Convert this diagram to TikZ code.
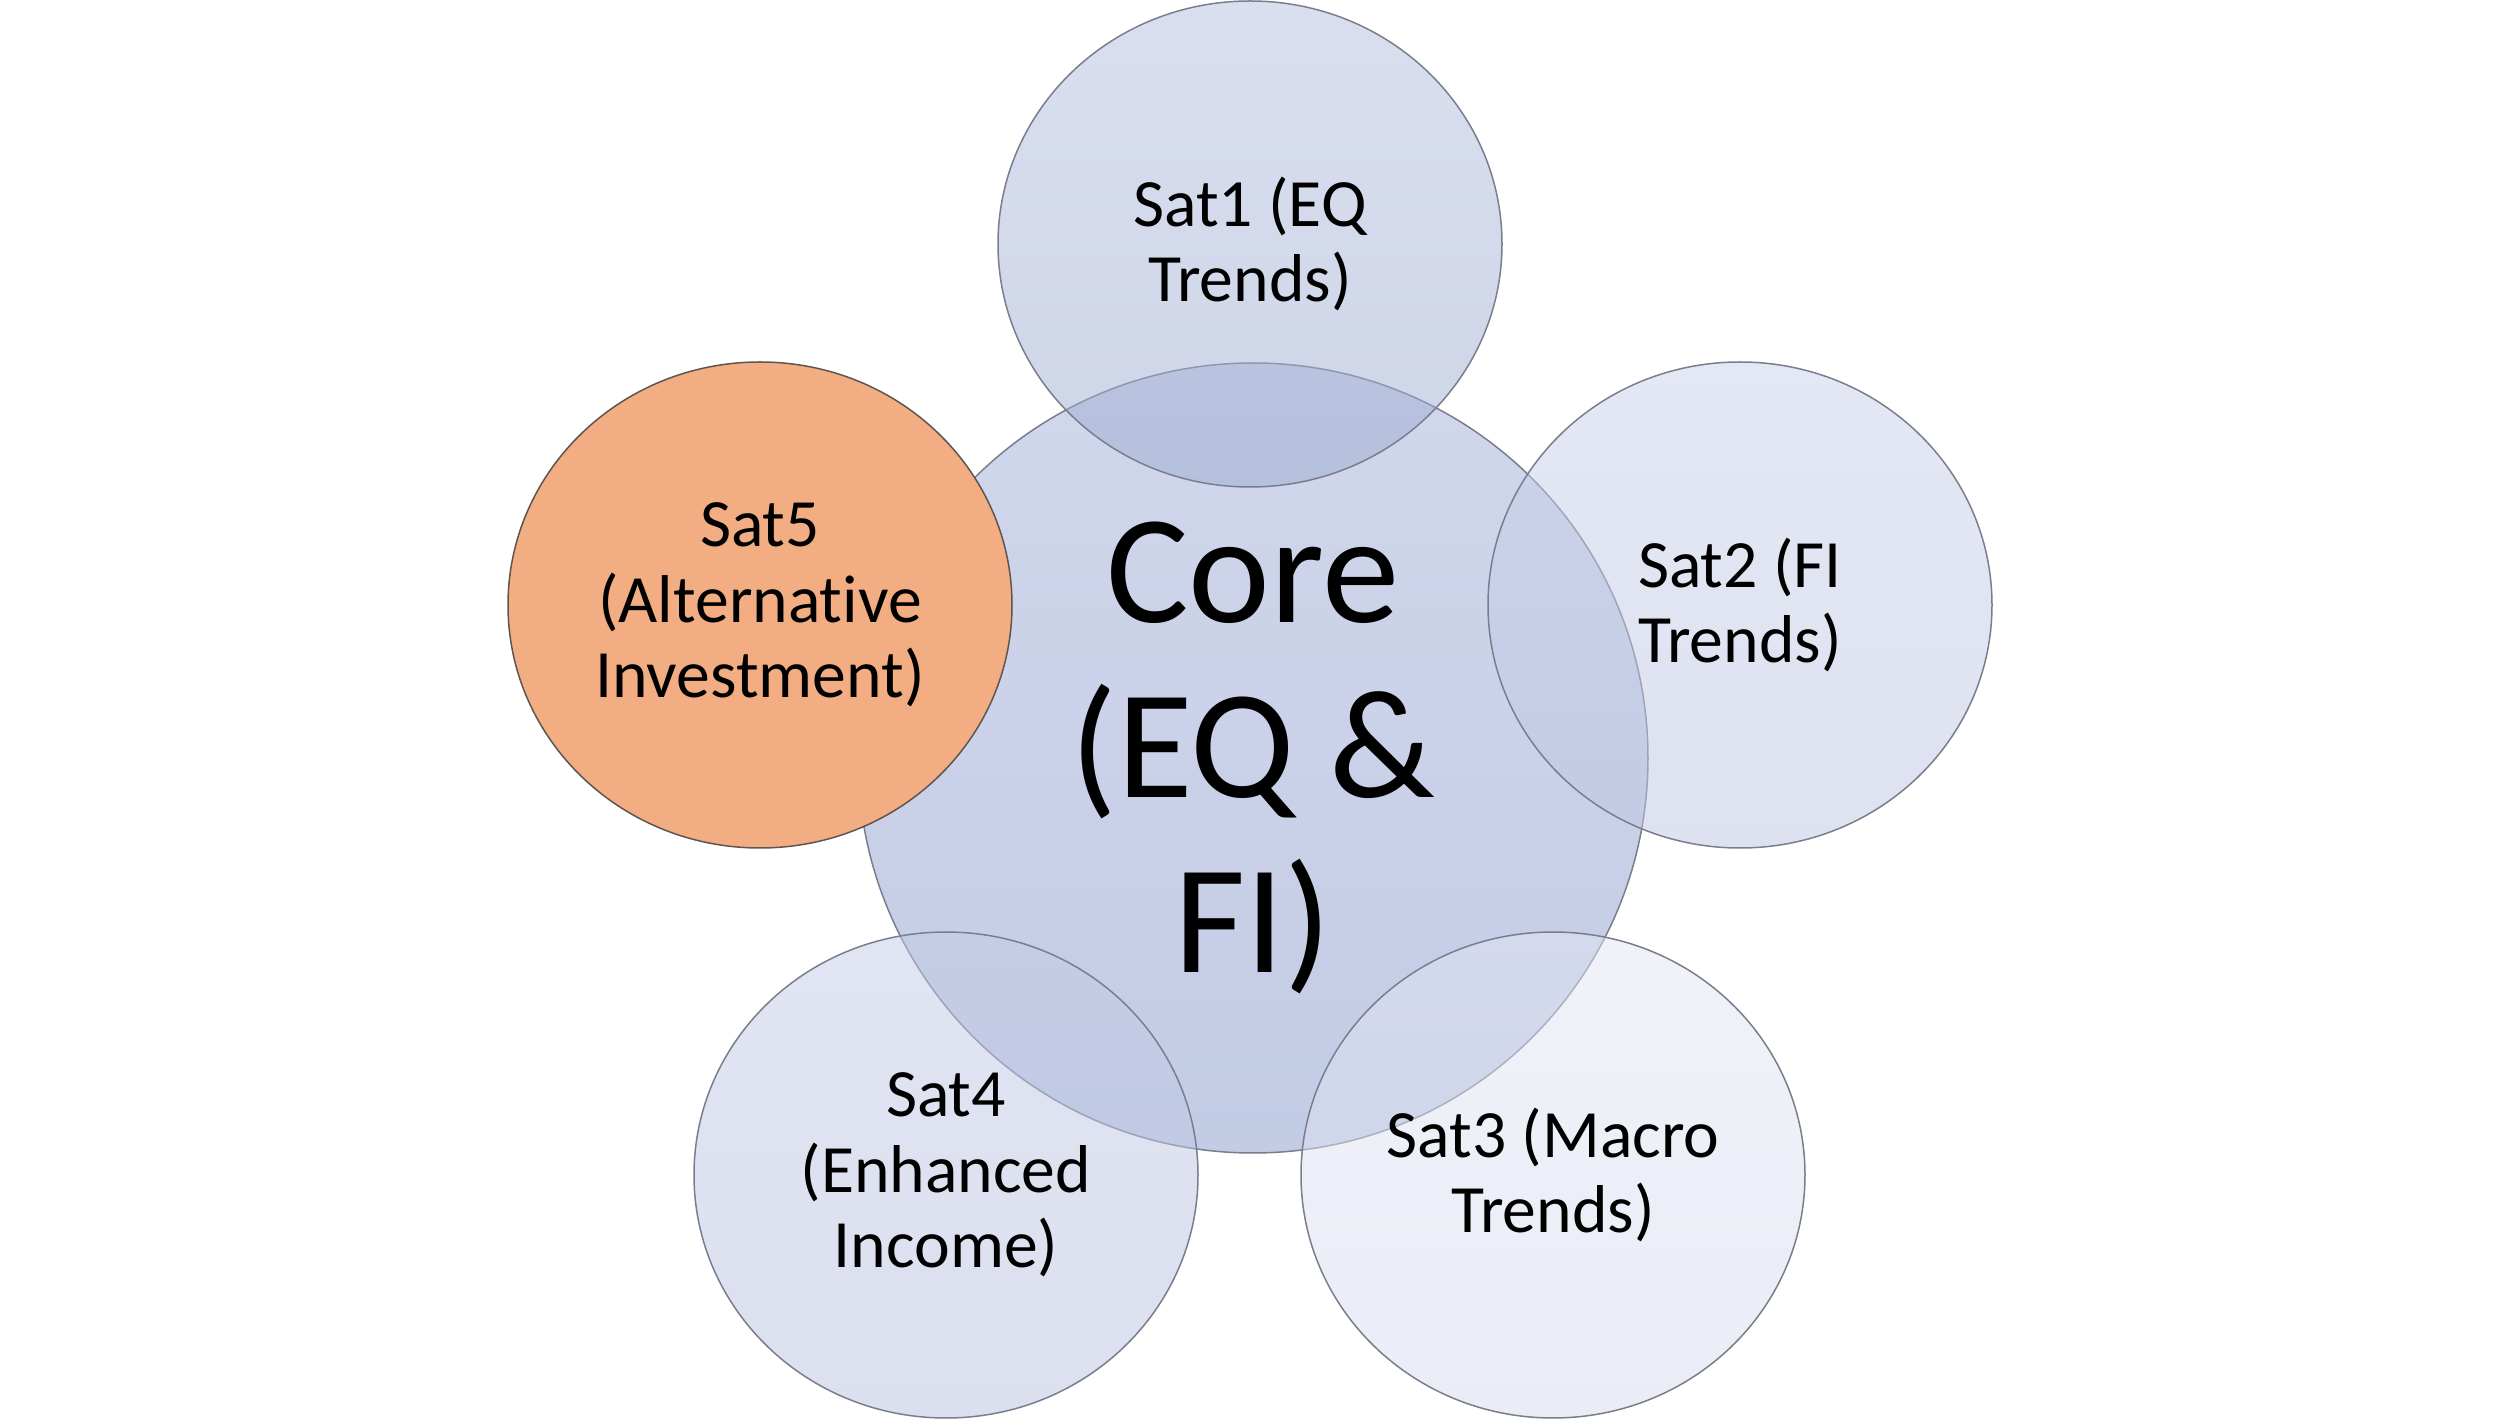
\documentclass[tikz,border=0pt]{standalone}
\usepackage{fontspec}
\setmainfont[Ligatures=NoCommon]{Carlito}
\usetikzlibrary{shapes.geometric}
\definecolor{outl}{RGB}{122,126,140}
\definecolor{coreT}{RGB}{163,175,216}
\definecolor{coreB}{RGB}{135,152,204}
\definecolor{satAT}{RGB}{179,191,222}
\definecolor{satAB}{RGB}{157,171,209}
\definecolor{satBT}{RGB}{201,208,233}
\definecolor{satBB}{RGB}{190,198,226}
\definecolor{satCT}{RGB}{226,229,244}
\definecolor{satCB}{RGB}{214,219,238}
\definecolor{satDT}{RGB}{196,203,230}
\definecolor{satDB}{RGB}{184,193,222}
\definecolor{orangefill}{RGB}{242,174,130}
\definecolor{orangeline}{RGB}{95,85,80}
\begin{document}
\begin{tikzpicture}[x=0.3pt,y=-0.3pt,
  bubble/.style={ellipse, draw=outl, line width=0.45pt, inner sep=0pt,
    fill opacity=0.5, text opacity=1, draw opacity=1, align=center},
  satbubble/.style={bubble, minimum width=151.2pt, minimum height=145.8pt,
    font=\fontsize{20.3}{22.6}\selectfont},
  corebubble/.style={bubble, minimum width=237pt, minimum height=237pt,
    font=\fontsize{46.5}{52.5}\selectfont}]
\useasboundingbox (0,0) rectangle (2500,1420);
\node[corebubble, top color=coreT, bottom color=coreB] (core) at (1253,758) {Core\\(EQ \&\\FI)};
\node[satbubble, top color=satAT, bottom color=satAB] (sat1) at (1250,244) {Sat1 (EQ\\Trends)};
\node[satbubble, top color=satBT, bottom color=satBB] (sat2) at (1740,605) {Sat2 (FI\\Trends)};
\node[satbubble, top color=satCT, bottom color=satCB] (sat3) at (1553,1175) {Sat3 (Macro\\Trends)};
\node[satbubble, top color=satDT, bottom color=satDB] (sat4) at (946,1175) {Sat4\\(Enhanced\\Income)};
\node[satbubble, fill=orangefill, fill opacity=1, draw=orangeline] (sat5) at (760,605) {Sat5\\(Alternative\\Investment)};
\end{tikzpicture}
\end{document}
